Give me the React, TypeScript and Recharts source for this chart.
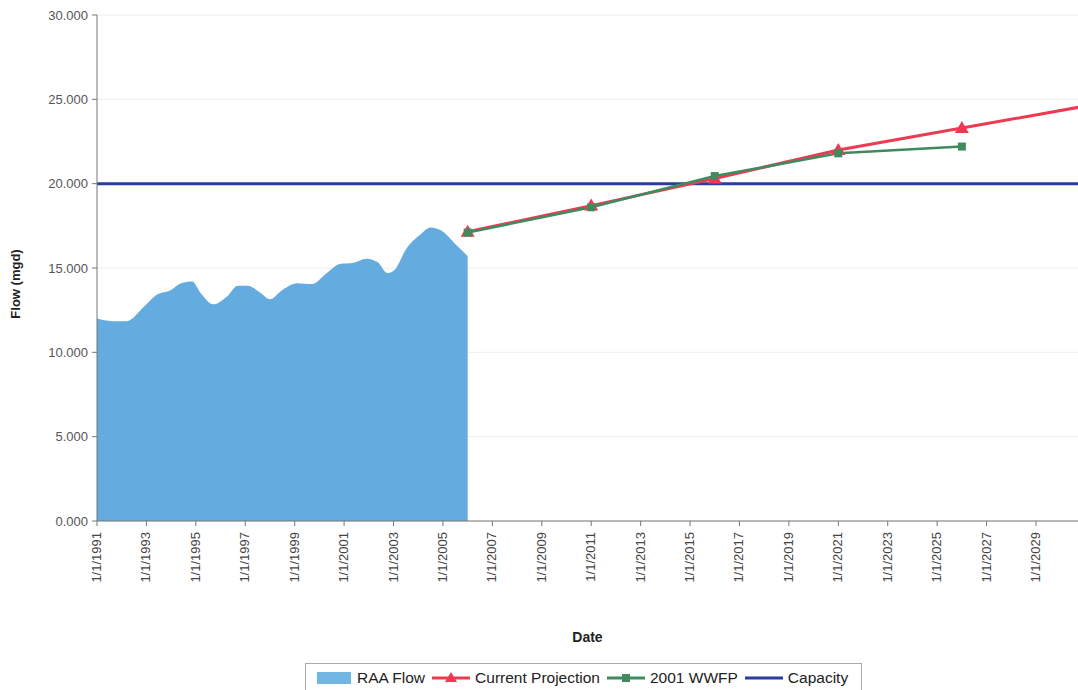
import React from "react";
import {
  Area,
  CartesianGrid,
  ComposedChart,
  Label,
  Legend,
  Line,
  XAxis,
  YAxis,
} from "recharts";

// RAA flow history (year as decimal, mgd)
const raaYears = [
  1991.0, 1991.6, 1992.2, 1992.9, 1993.4, 1994.0, 1994.4, 1994.85, 1995.2, 1995.7,
  1996.25, 1996.7, 1997.1, 1997.6, 1998.0, 1998.5, 1999.1, 1999.7, 2000.3, 2000.85,
  2001.35, 2001.9, 2002.35, 2002.75, 2003.05, 2003.5, 2004.1, 2004.5, 2004.9, 2005.55, 2006.0,
];
const raaFlow = [
  12.0, 11.85, 11.85, 12.7, 13.4, 13.7, 14.1, 14.2, 13.5, 12.85,
  13.3, 13.95, 13.95, 13.55, 13.15, 13.7, 14.1, 14.05, 14.7, 15.25,
  15.3, 15.55, 15.35, 14.7, 14.9, 16.1, 17.0, 17.4, 17.25, 16.35, 15.7,
];

const currentYears = [2006, 2011, 2016, 2021, 2026, 2031];
const currentFlow = [17.15, 18.7, 20.3, 22.0, 23.3, 24.6];

const wwfpYears = [2006, 2011, 2016, 2021, 2026];
const wwfpFlow = [17.1, 18.6, 20.45, 21.8, 22.2];

const capacityYears = [1991, 2031];
const capacityFlow = [20, 20];

const xTicks = [
  1991, 1993, 1995, 1997, 1999, 2001, 2003, 2005, 2007, 2009,
  2011, 2013, 2015, 2017, 2019, 2021, 2023, 2025, 2027, 2029,
];
const yTicks = [0, 5, 10, 15, 20, 25, 30];

const legendItems = [
  { name: "RAA Flow", kind: "area", color: "#72b6e3" },
  { name: "Current Projection", kind: "triangle", color: "#ec3a52" },
  { name: "2001 WWFP", kind: "square", color: "#3f8b5f" },
  { name: "Capacity", kind: "line", color: "#2b3c9c" },
];

const toRows = (xs: number[], ys: number[]) => xs.map((x, i) => ({ x, y: ys[i] }));

const raaData = toRows(raaYears, raaFlow);
const currentData = toRows(currentYears, currentFlow);
const wwfpData = toRows(wwfpYears, wwfpFlow);
const capacityData = toRows(capacityYears, capacityFlow);

const FONT = "'Liberation Sans', Arial, sans-serif";

const Triangle = (props: any) => {
  const { cx, cy } = props;
  if (cx == null || cy == null) return null;
  return (
    <path
      d={`M${cx},${cy - 7} L${cx + 7},${cy + 5} L${cx - 7},${cy + 5} Z`}
      fill="#ec3a52"
    />
  );
};

const Square = (props: any) => {
  const { cx, cy } = props;
  if (cx == null || cy == null) return null;
  return <rect x={cx - 4} y={cy - 4} width={8} height={8} fill="#3f8b5f" />;
};

const DateTick = (props: any) => {
  const { x, y, payload } = props;
  return (
    <text
      x={0}
      y={0}
      transform={`translate(${x + 4},${y + 4}) rotate(-90)`}
      textAnchor="end"
      fontSize={13}
      fontFamily={FONT}
      fill="#444"
    >
      {`1/1/${payload.value}`}
    </text>
  );
};

const Swatch = ({ kind, color }: { kind: string; color: string }) => {
  if (kind === "area") {
    return (
      <svg width={36} height={14}>
        <rect x={1} y={1} width={34} height={12} fill={color} />
      </svg>
    );
  }
  return (
    <svg width={38} height={14}>
      <line x1={0} y1={7} x2={38} y2={7} stroke={color} strokeWidth={3} />
      {kind === "triangle" && <path d="M19,1 L25,11 L13,11 Z" fill={color} />}
      {kind === "square" && <rect x={15} y={3} width={8} height={8} fill={color} />}
    </svg>
  );
};

const LegendBox = () => (
  <div
    style={{
      display: "flex",
      alignItems: "center",
      border: "1px solid #aaa",
      padding: "3px 6px 3px 10px",
      height: 22,
      fontFamily: FONT,
      fontSize: 15.5,
      color: "#222",
      background: "#fff",
      boxSizing: "content-box",
    }}
  >
    {legendItems.map((it) => (
      <div key={it.name} style={{ display: "flex", alignItems: "center", gap: 5, marginRight: 7 }}>
        <Swatch kind={it.kind} color={it.color} />
        <span>{it.name}</span>
      </div>
    ))}
  </div>
);

export default function App() {
  return (
    <div style={{ position: "absolute", left: 0, top: 0, width: 1078, height: 690, background: "#fff", overflow: "hidden" }}>
      <ComposedChart width={1078} height={690} margin={{ top: 15, right: 0, bottom: 39, left: 0 }}>
        <CartesianGrid horizontal vertical={false} stroke="#eeeeee" />
        <XAxis
          type="number"
          dataKey="x"
          domain={[1991, 2030.7]}
          allowDataOverflow
          ticks={xTicks}
          tick={<DateTick />}
          tickSize={5}
          height={130}
          stroke="#777"
          interval={0}
        >
          <Label
            value="Date"
            position="insideBottom"
            offset={9}
            style={{ fontFamily: FONT, fontSize: 14, fontWeight: 700, fill: "#222" }}
          />
        </XAxis>
        <YAxis
          type="number"
          dataKey="y"
          domain={[0, 30]}
          ticks={yTicks}
          tickFormatter={(v: number) => v.toFixed(3)}
          tick={{ fontSize: 13, fontFamily: FONT, fill: "#555" }}
          tickSize={5}
          tickMargin={4}
          width={97}
          stroke="#777"
        >
          <Label
            content={(p: any) => {
              const vb = p.viewBox;
              const cx = vb.x + 20;
              const cy = vb.y + vb.height / 2 + 16;
              return (
                <text
                  x={cx}
                  y={cy}
                  transform={`rotate(-90, ${cx}, ${cy})`}
                  textAnchor="middle"
                  fontFamily={FONT}
                  fontSize={13}
                  fontWeight={600}
                  fill="#222"
                >
                  Flow (mgd)
                </text>
              );
            }}
          />
        </YAxis>
        <Area
          data={raaData}
          dataKey="y"
          name="RAA Flow"
          type="monotone"
          stroke="none"
          fill="#64acdf"
          fillOpacity={1}
          isAnimationActive={false}
        />
        <Line
          data={capacityData}
          dataKey="y"
          name="Capacity"
          stroke="#2b3c9c"
          strokeWidth={3}
          dot={false}
          isAnimationActive={false}
        />
        <Line
          data={currentData}
          dataKey="y"
          name="Current Projection"
          stroke="#ec3a52"
          strokeWidth={3}
          dot={<Triangle />}
          isAnimationActive={false}
        />
        <Line
          data={wwfpData}
          dataKey="y"
          name="2001 WWFP"
          stroke="#3f8b5f"
          strokeWidth={2.5}
          dot={<Square />}
          isAnimationActive={false}
        />
        <Legend
          layout="horizontal"
          verticalAlign="middle"
          align="center"
          content={() => <LegendBox />}
          wrapperStyle={{ top: 663, left: 305, width: "auto" }}
        />
      </ComposedChart>
    </div>
  );
}
